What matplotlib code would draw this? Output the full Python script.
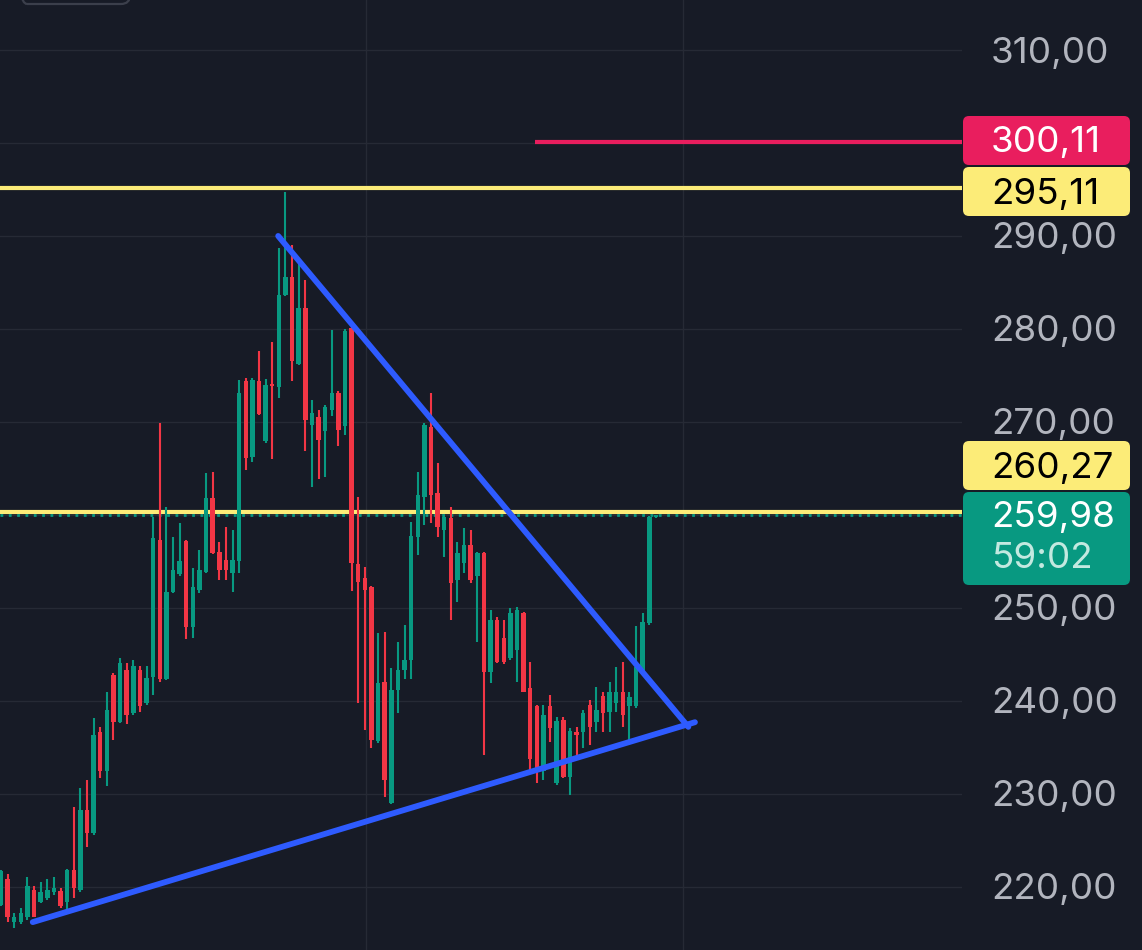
import numpy as np
import matplotlib.pyplot as plt
from matplotlib.patches import FancyBboxPatch
from matplotlib.transforms import IdentityTransform

plt.rcParams['font.family'] = ['Inter', 'DejaVu Sans']

# hourly candles
opens = [218.0, 220.8, 216.2, 216.2, 216.8, 219.7, 218.4, 218.8, 219.4, 219.5,
         218.4, 221.8, 219.7, 228.3, 225.8, 236.7, 232.4, 242.8, 237.7, 243.3,
         238.7, 243.3, 239.8, 242.6, 257.3, 242.3, 251.7, 253.6, 257.2, 247.9,
         251.9, 253.9, 261.8, 256.0, 255.2, 253.8, 255.0, 274.4, 266.2, 274.4,
         268.0, 274.1, 273.8, 283.6, 285.6, 276.2, 282.3, 269.7, 270.5, 269.0,
         271.3, 273.1, 269.6, 280.1, 254.7, 253.2, 252.2, 235.7, 242.0, 229.0,
         241.2, 243.3, 244.4, 257.6, 261.9, 269.5, 262.4, 258.4, 259.7, 253.0,
         254.8, 256.8, 253.4, 255.9, 243.1, 248.7, 246.8, 244.6, 245.5, 249.5,
         241.4, 239.4, 232.4, 239.4, 231.2, 237.9, 231.8, 236.6, 236.6, 239.6,
         237.7, 240.5, 238.8, 239.8, 240.9, 239.4, 239.4, 243.1, 248.4, 259.8]
highs = [221.8, 221.4, 217.2, 217.7, 221.1, 220.1, 220.5, 220.8, 221.0, 219.9,
         221.9, 228.6, 230.6, 231.5, 238.2, 237.2, 241.0, 243.0, 244.6, 244.1,
         244.4, 243.8, 243.8, 259.8, 269.9, 260.8, 257.6, 259.1, 257.3, 254.3,
         256.2, 264.5, 264.6, 257.1, 258.7, 258.4, 274.5, 274.7, 274.7, 277.6,
         274.6, 278.6, 288.7, 294.7, 289.0, 287.2, 285.3, 272.4, 271.3, 271.8,
         279.9, 273.3, 280.0, 280.3, 261.9, 254.4, 252.3, 247.3, 247.4, 243.5,
         246.3, 248.2, 259.2, 264.6, 269.9, 273.1, 265.6, 260.0, 260.9, 257.1,
         258.6, 258.4, 256.0, 256.0, 249.8, 249.0, 248.7, 250.0, 250.1, 249.6,
         244.2, 239.5, 239.6, 240.6, 238.3, 238.3, 237.1, 237.2, 239.0, 240.1,
         241.5, 241.0, 242.0, 243.6, 244.2, 241.0, 248.1, 249.5, 259.9, 260.0]
lows = [217.9, 216.2, 215.6, 216.0, 216.4, 216.7, 218.3, 218.6, 219.1, 217.7,
        217.3, 218.8, 219.4, 224.3, 225.6, 231.7, 230.8, 235.8, 237.6, 237.5,
        238.5, 238.8, 239.6, 240.6, 242.0, 242.2, 251.6, 253.4, 246.6, 246.8,
        251.6, 253.8, 255.8, 253.0, 253.0, 251.7, 253.8, 264.8, 265.7, 270.7,
        267.7, 266.0, 272.6, 283.5, 274.4, 276.1, 266.9, 263.0, 263.9, 264.1,
        270.6, 267.4, 268.6, 251.8, 239.8, 236.9, 234.9, 235.5, 229.7, 228.9,
        238.7, 242.3, 242.3, 255.7, 258.9, 259.1, 257.6, 255.5, 248.7, 250.6,
        253.8, 252.7, 246.3, 234.2, 241.9, 244.1, 244.0, 244.4, 242.0, 240.9,
        232.3, 231.2, 231.5, 235.6, 231.0, 231.7, 229.9, 234.0, 234.9, 235.3,
        236.6, 236.6, 236.6, 238.8, 237.2, 235.3, 239.2, 243.0, 248.2, 259.7]
closes = [221.7, 216.7, 216.8, 217.2, 220.1, 216.8, 219.4, 219.7, 219.9, 217.9,
          221.8, 219.9, 228.3, 225.8, 236.3, 232.4, 239.0, 237.7, 244.1, 238.5,
          243.7, 239.4, 242.5, 257.5, 242.3, 251.7, 254.1, 255.0, 247.9, 252.2,
          254.1, 261.8, 255.9, 254.1, 254.1, 255.2, 273.1, 266.1, 274.5, 270.8,
          274.0, 273.9, 283.7, 285.6, 276.6, 282.2, 270.2, 271.0, 268.1, 271.6,
          273.1, 269.1, 279.8, 254.8, 252.8, 251.9, 235.8, 241.9, 231.5, 241.2,
          243.3, 244.4, 257.7, 262.1, 269.7, 262.1, 258.7, 259.8, 252.7, 255.9,
          256.8, 253.0, 255.9, 243.1, 248.7, 244.2, 244.2, 249.5, 249.8, 241.0,
          233.7, 232.6, 238.5, 237.1, 237.8, 231.8, 236.8, 236.3, 238.7, 237.2,
          239.0, 238.7, 240.9, 240.9, 238.5, 240.4, 243.6, 248.5, 259.8, 259.98]

# levels and drawings
level_red = 300.11
level_top = 295.11
level_mid = 260.27
last_price = 259.98
timer = '59:02'
red_from = 80.7
down_line = ([41.9, 103.9], [290.0, 237.2])
up_line = ([4.8, 104.9], [216.2, 237.7])
price_ticks = [220, 230, 240, 250, 270, 280, 290, 310]
grid_prices = np.arange(220, 311, 10)
day_lines = [55.2, 103.1]

BG = '#171b26'
GRID = '#262a35'
UP = '#089981'
DOWN = '#f23645'
BLUE = '#2e5bff'
YELLOW = '#fcec78'
PINK = '#e91e5e'
TICK = '#b2b5be'

W, H = 1142, 950
YTOP, YBOT = 315.38, 213.2
FS = 26.5


def py(ypx):
    # pixel row -> price, for placing the labels on the price scale
    return YTOP - ypx * (YTOP - YBOT) / H


fig = plt.figure(figsize=(W / 100, H / 100), dpi=100, facecolor=BG)
ax = fig.add_axes([0, 0, 962 / W, 1])
ax.set_facecolor(BG)
ax.set_xlim(-0.151, 145.27)
ax.set_ylim(YBOT, YTOP)
ax.axis('off')

for p in grid_prices:
    ax.axhline(p, color=GRID, lw=1, zorder=0)
for d in day_lines:
    ax.axvline(d, color=GRID, lw=1, zorder=0)

ax.axhline(level_top, color=YELLOW, lw=3, zorder=1)
ax.axhline(level_mid, color=YELLOW, lw=3, zorder=1)
ax.hlines(level_red, red_from, 146, color=PINK, lw=3, zorder=1)
ax.axhline(last_price, color=UP, lw=2, ls=(0, (1, 2)), zorder=2)

o = np.array(opens)
c = np.array(closes)
x = np.arange(len(o))
cols = np.where(c >= o, UP, DOWN)
ax.vlines(x, lows, highs, color=cols, lw=1.5, zorder=3)
body = np.maximum(np.abs(c - o), 0.15)
ax.bar(x, body, bottom=np.minimum(o, c), width=0.68, color=cols, zorder=4)

for xs, ys in (down_line, up_line):
    ax.plot(xs, ys, color=BLUE, lw=4.2, solid_capstyle='round', zorder=6)

# top-left button outline
fig.add_artist(FancyBboxPatch((18, H - 4), 112, 60, boxstyle='round,pad=0,rounding_size=9',
                              transform=IdentityTransform(), fc='none', ec='#3b3f4b', lw=1.6))

# price scale
side = fig.add_axes([962 / W, 0, 180 / W, 1], sharey=ax)
side.set_facecolor(BG)
side.set_xlim(0, 180)
side.axis('off')
fmt = lambda v: f'{v:.2f}'.replace('.', ',')
shift = 3 * (YTOP - YBOT) / H
for p in price_ticks:
    side.text(29, p - shift, fmt(p), ha='left', va='center', fontsize=FS, color=TICK)


def badge(top, bottom, color):
    y0, y1 = py(bottom), py(top)
    side.add_patch(FancyBboxPatch((1, y0), 167, y1 - y0, boxstyle='round,pad=0,rounding_size=6',
                                  mutation_aspect=(YTOP - YBOT) / H, fc=color, ec='none', zorder=3))


badge(116, 165, PINK)
side.text(29, py(143), fmt(level_red), ha='left', va='center', fontsize=FS, color='white', zorder=4)
badge(167, 216, YELLOW)
side.text(29, py(194), fmt(level_top), ha='left', va='center', fontsize=FS, color='black', zorder=4)
badge(441, 490, YELLOW)
side.text(29, py(468), fmt(level_mid), ha='left', va='center', fontsize=FS, color='black', zorder=4)
badge(492, 585, UP)
side.text(29, py(517), fmt(last_price), ha='left', va='center', fontsize=FS, color='white', zorder=4)
side.text(29, py(559), timer, ha='left', va='center', fontsize=FS, color='#c3e9e0', zorder=4)

fig.savefig('out.png', dpi=100, facecolor=BG)
